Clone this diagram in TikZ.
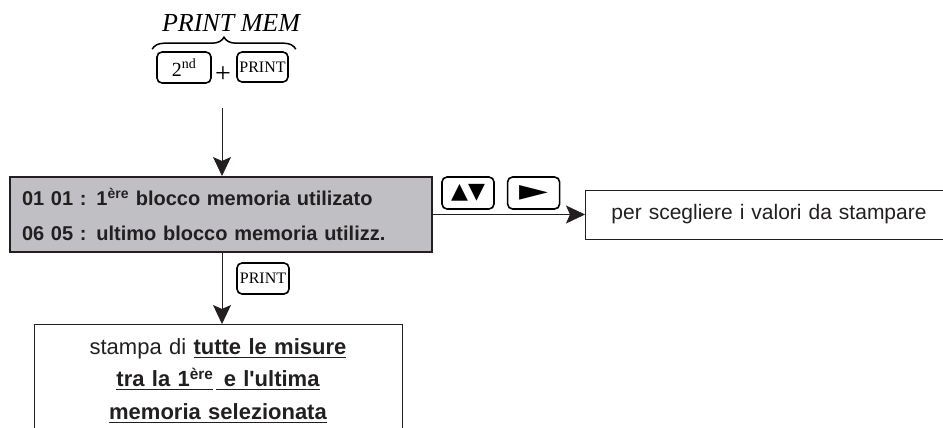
\documentclass[tikz,border=0pt]{standalone}
\usepackage{fontspec}
\setmainfont{Liberation Sans}
\newfontfamily\keyfont{Liberation Serif}
\newfontfamily\symbolfont{DejaVu Sans}
\usepackage{tikz}
\usetikzlibrary{arrows.meta,positioning,decorations.pathreplacing}
\definecolor{panelgray}{RGB}{192,192,196}
\definecolor{inkgray}{RGB}{35,31,32}
\newcommand{\undl}[1]{\leavevmode\setbox0\hbox{#1}\rlap{\raisebox{-3.5pt}{\rule{\wd0}{1.2pt}}}\box0\relax}

\begin{document}
\begin{tikzpicture}[
    x=1pt, y=-1pt,
    node distance=12pt,
    key/.style={draw, line width=1.6pt, rounded corners=5pt, inner sep=0pt, minimum width=52pt, minimum height=31pt, font=\keyfont\fontsize{16}{16}\selectfont},
    panel/.style={draw=inkgray, line width=2pt, fill=panelgray, text width=398pt, inner xsep=12pt, inner ysep=0pt, minimum height=75pt, align=left, text=inkgray, font=\bfseries\fontsize{20}{35}\selectfont},
    outbox/.style={draw=inkgray, line width=0.9pt, text=inkgray},
    arr/.style={-{Stealth[length=19pt, width=18pt, inset=4pt]}, line width=0.8pt, draw=inkgray},
    curly/.style={decorate, decoration={brace, amplitude=12pt}, line width=1.5pt}
  ]
  \useasboundingbox (0,0) rectangle (943,428);
  \clip (0,0) rectangle (943,428);

  % key combination on top
  \node[key, minimum width=54pt] (second) at (184,67.5) {\fontsize{20}{20}\selectfont 2\textsuperscript{nd}};
  \node[font=\keyfont\fontsize{28}{28}\selectfont, inner sep=0pt] (plus) at (223,75) {+};
  \node[key, minimum width=51pt, minimum height=30pt] (print) at (262.5,67) {PRINT};
  \draw[curly] ([shift={(-4pt,2pt)}]second.north west) -- ([shift={(7pt,2pt)}]print.north east);
  \node[font=\keyfont\itshape\fontsize{26}{26}\selectfont, anchor=base] (cmd) at (231,32) {PRINT MEM};
  \coordinate (down) at (222,108);

  % display
  \node[panel] (mem) at (221,214.5) {\makebox[370pt][s]{01 01 : 1\textsuperscript{ère} blocco memoria utilizato}\\\makebox[395pt][s]{06 05 : ultimo blocco memoria utilizz.}};

  % selection keys
  \node[key, minimum height=32pt] (updown) at (468,193) {\symbolfont\fontsize{22}{22}\selectfont ▲▼};
  \node[key, minimum height=32pt, right=of updown] (next) {\resizebox{29pt}{15pt}{\symbolfont ►}};
  \node[outbox, anchor=west, minimum height=49pt, text width=330pt, inner xsep=26pt, align=left, font=\fontsize{21}{21}\selectfont] (choose) at (585,214.5) {per scegliere i valori da stampare};

  % print key and result
  \node[key] (print2) at (263,278.5) {PRINT};
  \node[outbox, anchor=north, text width=348pt, inner xsep=10pt, inner ysep=14pt, align=center, font=\fontsize{22}{32.5}\selectfont] (result) at (218,324)
    {stampa di {\bfseries\undl{tutte le misure}}\\{\bfseries\undl{tra la 1\textsuperscript{ère}}\hspace{3pt}\undl{ e l\textquotesingle ultima}}\\{\bfseries\undl{memoria selezionata}}};

  \draw[arr] (down) -- (down |- mem.north);
  \draw[arr] (mem.south -| down) -- (down |- result.north);
  \draw[arr] (mem.east) -- (mem.east -| choose.west);
\end{tikzpicture}
\end{document}
